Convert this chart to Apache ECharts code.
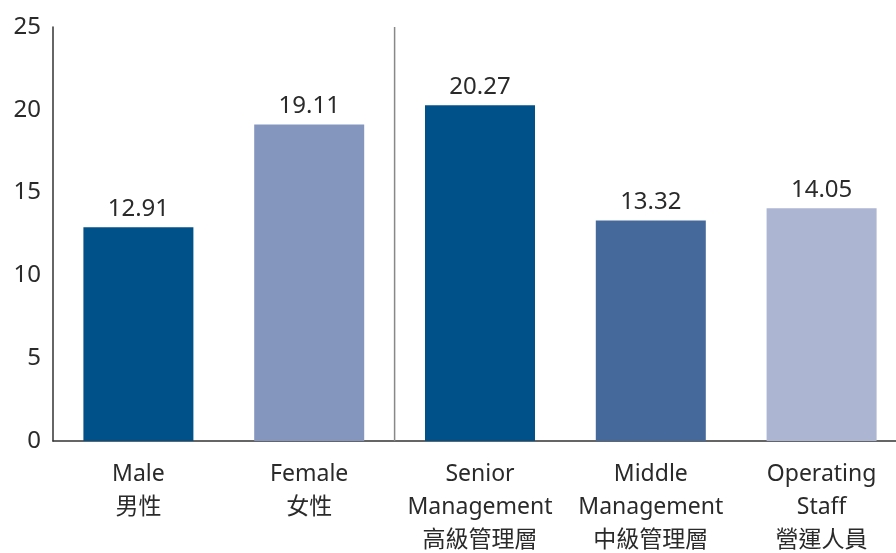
<!DOCTYPE html>
<html>
<head>
<meta charset="utf-8">
<script src="https://cdn.jsdelivr.net/npm/echarts@6/dist/echarts.min.js"></script>
<style>html,body{margin:0;padding:0;background:#fff;}#c{width:896px;height:553px;}</style>
</head>
<body>
<div id="c"></div>
<script>
const categories = ["Male\n男性", "Female\n女性", "Senior\nManagement\n高級管理層", "Middle\nManagement\n中級管理層", "Operating\nStaff\n營運人員"];
const values = [12.91, 19.11, 20.27, 13.32, 14.05];
const barColors = ["#00508a", "#8496bd", "#00508a", "#46699b", "#acb6d3"];
const yTicks = [0, 5, 10, 15, 20, 25];
const separatorAt = 2; // boundary between Female and Senior

const FONT = '"Noto Sans", "Noto Sans CJK TC", sans-serif';
const chart = echarts.init(document.getElementById('c'));
chart.setOption({
  animation: false,
  grid: { left: 53, top: 27, width: 854, bottom: 112, containLabel: false, outerBoundsMode: 'none' },
  xAxis: [{
    type: 'category',
    data: categories,
    axisLine: { lineStyle: { color: '#333', width: 1.5 } },
    axisTick: { show: false },
    axisLabel: { color: '#2a2a2a', fontFamily: FONT, fontSize: 23, lineHeight: 33, margin: 17, interval: 0 }
  }, {
    type: 'value', min: 0, max: categories.length, show: false
  }],
  yAxis: {
    type: 'value', min: yTicks[0], max: yTicks[yTicks.length - 1], interval: 5,
    axisLine: { show: true, lineStyle: { color: '#333', width: 1.5 } },
    axisTick: { show: false },
    splitLine: { show: false },
    axisLabel: { color: '#2a2a2a', fontFamily: FONT, fontSize: 24, margin: 12 }
  },
  series: [{
    type: 'bar',
    data: values.map((v, i) => ({ value: v, itemStyle: { color: barColors[i] } })),
    barWidth: 110,
    label: { show: true, position: 'top', distance: 6, color: '#2a2a2a', fontFamily: FONT, fontSize: 24, formatter: p => p.value.toFixed(2) }
  }, {
    type: 'line',
    xAxisIndex: 1,
    data: [[separatorAt, yTicks[0]], [separatorAt, yTicks[yTicks.length - 1]]],
    symbol: 'none',
    silent: true,
    lineStyle: { color: '#888', width: 1.5 }
  }]
});
</script>
</body>
</html>
